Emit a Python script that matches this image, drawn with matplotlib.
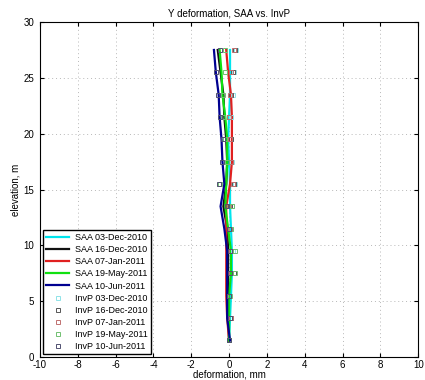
import matplotlib
matplotlib.use('Agg')
import matplotlib.pyplot as plt

plt.rcParams['font.family'] = ['Liberation Sans', 'DejaVu Sans']
plt.rcParams['axes.unicode_minus'] = False

# elevations (m) for both SAA and InvP readings
elev = [1.5, 3.5, 5.5, 7.5, 9.5, 11.5, 13.5, 15.5, 17.5, 19.5, 21.5, 23.5, 25.5, 27.5]

dates = ['03-Dec-2010', '16-Dec-2010', '07-Jan-2011', '19-May-2011', '10-Jun-2011']
colors = ['#00e5ee', '#111111', '#e02020', '#10e010', '#000090']
marker_colors = ['#8fe3e8', '#555555', '#c07070', '#70c070', '#505070']

# SAA deformation (mm)
saa_dec03 = [0.0, 0.05, 0.1, 0.15, 0.15, 0.1, 0.05, 0.05, 0.0, -0.05, 0.0, 0.05, 0.05, 0.05]
saa_dec16 = [0.0, -0.05, -0.05, -0.05, -0.05, -0.1, -0.3, -0.15, -0.1, -0.15, -0.25, -0.3, -0.45, -0.6]
saa_jan07 = [0.0, -0.1, -0.15, -0.15, -0.15, -0.15, -0.15, 0.05, 0.15, 0.15, 0.15, 0.1, -0.05, -0.15]
saa_may19 = [0.0, 0.0, 0.0, 0.1, 0.1, -0.05, -0.2, -0.15, -0.1, -0.1, -0.2, -0.35, -0.4, -0.5]
saa_jun10 = [0.05, -0.1, -0.1, -0.1, -0.1, -0.25, -0.45, -0.25, -0.35, -0.4, -0.5, -0.55, -0.7, -0.8]

# InvP deformation (mm)
invp_dec03 = [0.0, 0.05, 0.0, 0.1, 0.2, 0.1, 0.15, 0.3, 0.15, 0.1, 0.1, 0.2, 0.25, 0.35]
invp_dec16 = [0.0, 0.1, 0.0, 0.25, 0.1, 0.05, 0.05, 0.25, 0.1, 0.1, 0.0, 0.1, 0.2, 0.3]
invp_jan07 = [0.0, 0.1, 0.0, 0.1, 0.1, 0.05, 0.0, 0.2, 0.1, 0.05, 0.0, 0.05, 0.1, 0.25]
invp_may19 = [0.0, 0.05, 0.05, 0.3, 0.3, 0.1, 0.15, -0.5, -0.1, -0.2, -0.3, -0.3, -0.2, -0.2]
invp_jun10 = [0.0, 0.05, 0.0, 0.05, 0.05, 0.0, -0.1, -0.55, -0.4, -0.3, -0.5, -0.6, -0.7, -0.5]

saa = [saa_dec03, saa_dec16, saa_jan07, saa_may19, saa_jun10]
invp = [invp_dec03, invp_dec16, invp_jan07, invp_may19, invp_jun10]

fig = plt.figure(figsize=(4.25, 3.8), dpi=100)
ax = fig.add_axes([0.094, 0.06, 0.89, 0.882])

for d, c, vals in zip(dates, colors, saa):
    ax.plot(vals, elev, color=c, lw=1.6, label='SAA ' + d)
for d, c, vals in zip(dates, marker_colors, invp):
    ax.plot(vals, elev, ls='none', marker='s', ms=3.5, mfc='none', mec=c,
            mew=0.7, label='InvP ' + d)

ax.set_xlim(-10, 10)
ax.set_ylim(0, 30)
ax.set_xticks(range(-10, 11, 2))
ax.set_yticks(range(0, 31, 5))
ax.grid(True, ls=(0, (1, 3)), color='#b8b8b8', lw=0.7)
ax.tick_params(direction='in', top=True, right=True, labelsize=7, length=3)
ax.tick_params(axis='x', pad=2)
ax.tick_params(axis='y', pad=4)
ax.set_title('Y deformation, SAA vs. InvP', fontsize=7, pad=4)
ax.set_xlabel('deformation, mm', fontsize=7, labelpad=0)
ax.set_ylabel('elevation, m', fontsize=7, labelpad=2)

ax.legend(loc='lower left', fontsize=6.5, frameon=True, fancybox=False,
          edgecolor='black', framealpha=1, borderpad=0.35, labelspacing=0.35,
          handlelength=2.6, handletextpad=0.6, borderaxespad=0.3)

fig.savefig('out.png', dpi=100)
